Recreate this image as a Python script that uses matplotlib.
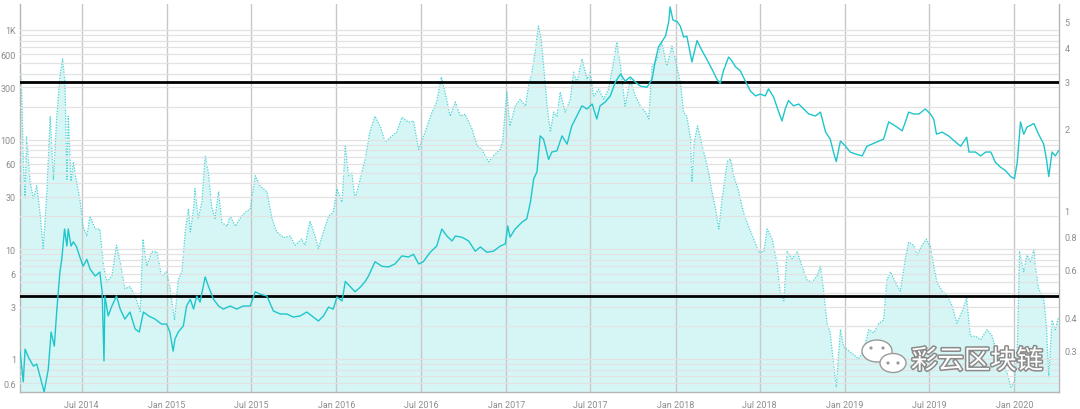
import numpy as np
import pandas as pd
import matplotlib
matplotlib.use("Agg")
import matplotlib.pyplot as plt
import matplotlib.dates as mdates
import matplotlib.ticker as mticker
import matplotlib.patheffects as pe
from matplotlib.patches import Ellipse, Circle

# price (left axis, log)
price_dates = [
    "2014-02-18", "2014-02-25", "2014-03-01", "2014-03-08", "2014-03-19", "2014-03-26",
    "2014-04-02", "2014-04-11", "2014-04-20", "2014-04-26", "2014-05-03", "2014-05-08",
    "2014-05-15", "2014-05-19", "2014-05-25", "2014-05-30", "2014-06-02", "2014-06-08",
    "2014-06-13", "2014-06-20", "2014-06-27", "2014-07-04", "2014-07-12", "2014-07-19",
    "2014-07-30", "2014-08-09", "2014-08-14", "2014-08-18", "2014-08-20", "2014-08-27",
    "2014-09-04", "2014-09-14", "2014-09-22", "2014-10-02", "2014-10-13", "2014-10-24",
    "2014-11-02", "2014-11-11", "2014-11-22", "2014-12-06", "2014-12-20", "2014-12-31",
    "2015-01-07", "2015-01-14", "2015-01-18", "2015-01-25", "2015-02-05", "2015-02-12",
    "2015-02-20", "2015-02-27", "2015-03-06", "2015-03-13", "2015-03-24", "2015-03-31",
    "2015-04-11", "2015-04-22", "2015-05-02", "2015-05-17", "2015-05-31", "2015-06-14",
    "2015-06-29", "2015-07-10", "2015-07-20", "2015-08-04", "2015-08-18", "2015-09-02",
    "2015-09-16", "2015-09-30", "2015-10-15", "2015-10-29", "2015-11-12", "2015-11-23",
    "2015-12-04", "2015-12-15", "2015-12-25", "2016-01-02", "2016-01-13", "2016-01-20",
    "2016-01-30", "2016-02-10", "2016-02-21", "2016-03-03", "2016-03-10", "2016-03-24",
    "2016-04-08", "2016-04-22", "2016-05-06", "2016-05-21", "2016-06-04", "2016-06-15",
    "2016-06-26", "2016-07-06", "2016-07-21", "2016-08-04", "2016-08-15", "2016-08-26",
    "2016-09-06", "2016-09-13", "2016-09-27", "2016-10-12", "2016-10-26", "2016-11-06",
    "2016-11-20", "2016-12-04", "2016-12-19", "2016-12-30", "2017-01-04", "2017-01-09",
    "2017-01-20", "2017-02-04", "2017-02-14", "2017-02-22", "2017-03-01", "2017-03-08",
    "2017-03-15", "2017-03-22", "2017-03-26", "2017-04-02", "2017-04-09", "2017-04-20",
    "2017-05-01", "2017-05-12", "2017-05-22", "2017-06-02", "2017-06-13", "2017-06-24",
    "2017-07-05", "2017-07-15", "2017-07-22", "2017-08-02", "2017-08-13", "2017-08-24",
    "2017-09-04", "2017-09-14", "2017-09-25", "2017-10-06", "2017-10-17", "2017-10-31",
    "2017-11-11", "2017-11-18", "2017-11-25", "2017-12-02", "2017-12-10", "2017-12-17",
    "2017-12-20", "2017-12-26", "2018-01-04", "2018-01-11", "2018-01-18", "2018-01-25",
    "2018-02-05", "2018-02-16", "2018-02-27", "2018-03-09", "2018-03-20", "2018-03-31",
    "2018-04-07", "2018-04-14", "2018-04-25", "2018-05-02", "2018-05-10", "2018-05-20",
    "2018-05-31", "2018-06-11", "2018-06-22", "2018-07-02", "2018-07-13", "2018-07-20",
    "2018-07-31", "2018-08-11", "2018-08-18", "2018-08-25", "2018-09-01", "2018-09-12",
    "2018-09-23", "2018-10-04", "2018-10-15", "2018-10-29", "2018-11-09", "2018-11-20",
    "2018-11-30", "2018-12-07", "2018-12-13", "2018-12-22", "2019-01-02", "2019-01-12",
    "2019-01-23", "2019-02-07", "2019-02-17", "2019-02-28", "2019-03-15", "2019-03-25",
    "2019-04-05", "2019-04-19", "2019-04-23", "2019-05-04", "2019-05-11", "2019-05-18",
    "2019-05-29", "2019-06-09", "2019-06-23", "2019-07-04", "2019-07-11", "2019-07-17",
    "2019-07-29", "2019-08-12", "2019-08-27", "2019-09-07", "2019-09-20", "2019-09-25",
    "2019-10-09", "2019-10-20", "2019-10-31", "2019-11-11", "2019-11-21", "2019-12-02",
    "2019-12-13", "2019-12-24", "2020-01-01", "2020-01-07", "2020-01-14", "2020-01-21",
    "2020-01-28", "2020-02-12", "2020-02-22", "2020-03-04", "2020-03-10", "2020-03-15",
    "2020-03-22", "2020-03-29", "2020-04-05",
]
price_vals = [
    1.18, 0.62, 1.23, 1.04, 0.86, 0.90,
    0.70, 0.50, 0.81, 1.76, 1.31, 2.68,
    6.2, 8.1, 15.3, 10.7, 15.3, 10.7,
    11.7, 10.5, 8.5, 7.0, 8.1, 6.6,
    5.7, 6.2, 4.1, 0.96, 3.75, 2.47,
    3.04, 3.75, 2.85, 2.31, 2.68, 1.88,
    1.76, 2.68, 2.47, 2.31, 2.08, 2.08,
    1.76, 1.18, 1.52, 1.76, 2.0, 3.04,
    3.5, 2.85, 3.75, 3.3, 5.6, 4.6,
    3.5, 3.04, 2.85, 3.04, 2.85, 3.04,
    3.04, 4.1, 3.9, 3.75, 2.74, 2.57,
    2.57, 2.41, 2.47, 2.68, 2.41, 2.22,
    2.47, 2.97, 2.85, 3.67, 3.38, 5.1,
    4.6, 4.1, 4.5, 5.1, 5.7, 7.7,
    7.0, 6.9, 7.35, 8.7, 8.5, 9.0,
    7.35, 7.7, 9.4, 10.7, 15.3, 13.2,
    11.9, 13.2, 12.9, 11.9, 9.6, 10.5,
    9.4, 9.6, 10.7, 11.2, 16.3, 12.9,
    15.3, 17.7, 18.9, 27, 44, 50.6,
    108, 101, 87, 66, 77, 79,
    108, 91, 133, 164, 203, 190,
    211, 154, 203, 220, 250, 335,
    396, 342, 372, 335, 307, 300,
    354, 522, 700, 780, 877, 1190,
    1620, 1230, 1190, 1080, 860, 877,
    510, 800, 643, 540, 440, 354,
    325, 425, 565, 522, 460, 425,
    342, 277, 250, 260, 250, 290,
    244, 178, 148, 190, 227, 203,
    211, 190, 171, 164, 178, 117,
    101, 77, 63, 97, 87, 77,
    74, 71, 87, 91, 97, 101,
    145, 133, 130, 120, 145, 178,
    171, 171, 190, 171, 154, 112,
    117, 108, 95, 87, 105, 77,
    77, 71, 77, 77, 62, 56,
    52, 46, 44, 62, 145, 112,
    130, 140, 112, 91, 66, 46,
    77, 71, 79,
]

# ratio (right axis, log) - dotted with fill
ratio_dates = [
    "2014-02-18", "2014-02-22", "2014-02-25", "2014-03-01", "2014-03-04", "2014-03-12",
    "2014-03-19", "2014-03-26", "2014-04-02", "2014-04-09", "2014-04-17", "2014-04-24",
    "2014-05-01", "2014-05-08", "2014-05-15", "2014-05-21", "2014-05-26", "2014-05-30",
    "2014-06-02", "2014-06-08", "2014-06-13", "2014-06-20", "2014-06-27", "2014-07-04",
    "2014-07-12", "2014-07-19", "2014-07-30", "2014-08-09", "2014-08-17", "2014-08-24",
    "2014-09-04", "2014-09-14", "2014-09-22", "2014-10-02", "2014-10-13", "2014-10-24",
    "2014-11-04", "2014-11-10", "2014-11-18", "2014-11-29", "2014-12-10", "2014-12-20",
    "2014-12-31", "2015-01-07", "2015-01-17", "2015-01-25", "2015-02-02", "2015-02-09",
    "2015-02-16", "2015-02-20", "2015-02-27", "2015-03-02", "2015-03-09", "2015-03-17",
    "2015-03-24", "2015-03-31", "2015-04-07", "2015-04-14", "2015-04-22", "2015-04-29",
    "2015-05-10", "2015-05-17", "2015-05-28", "2015-06-07", "2015-06-18", "2015-06-29",
    "2015-07-10", "2015-07-20", "2015-08-04", "2015-08-15", "2015-08-25", "2015-09-09",
    "2015-09-23", "2015-10-04", "2015-10-18", "2015-10-25", "2015-11-05", "2015-11-16",
    "2015-11-23", "2015-12-04", "2015-12-15", "2015-12-25", "2016-01-02", "2016-01-13",
    "2016-01-20", "2016-01-27", "2016-02-03", "2016-02-10", "2016-02-21", "2016-03-03",
    "2016-03-13", "2016-03-24", "2016-04-04", "2016-04-15", "2016-04-29", "2016-05-10",
    "2016-05-21", "2016-06-04", "2016-06-15", "2016-06-26", "2016-07-10", "2016-07-25",
    "2016-08-04", "2016-08-14", "2016-08-22", "2016-09-02", "2016-09-13", "2016-09-24",
    "2016-10-04", "2016-10-19", "2016-10-30", "2016-11-09", "2016-11-24", "2016-12-04",
    "2016-12-19", "2016-12-24", "2017-01-02", "2017-01-09", "2017-01-20", "2017-01-31",
    "2017-02-11", "2017-02-18", "2017-02-25", "2017-03-04", "2017-03-11", "2017-03-17",
    "2017-03-22", "2017-03-30", "2017-04-06", "2017-04-13", "2017-04-20", "2017-04-27",
    "2017-05-08", "2017-05-19", "2017-05-26", "2017-06-02", "2017-06-13", "2017-06-24",
    "2017-07-01", "2017-07-08", "2017-07-19", "2017-07-30", "2017-08-09", "2017-08-20",
    "2017-08-27", "2017-09-04", "2017-09-14", "2017-09-25", "2017-10-06", "2017-10-17",
    "2017-10-28", "2017-11-04", "2017-11-11", "2017-11-22", "2017-12-02", "2017-12-13",
    "2017-12-24", "2017-12-31", "2018-01-11", "2018-01-18", "2018-01-25", "2018-02-02",
    "2018-02-05", "2018-02-10", "2018-02-17", "2018-02-27", "2018-03-06", "2018-03-13",
    "2018-03-20", "2018-03-27", "2018-04-04", "2018-04-11", "2018-04-22", "2018-04-29",
    "2018-05-06", "2018-05-17", "2018-05-27", "2018-06-07", "2018-06-18", "2018-06-29",
    "2018-07-10", "2018-07-17", "2018-07-28", "2018-08-07", "2018-08-14", "2018-08-22",
    "2018-08-29", "2018-09-09", "2018-09-20", "2018-09-30", "2018-10-11", "2018-10-22",
    "2018-11-02", "2018-11-09", "2018-11-16", "2018-11-23", "2018-11-30", "2018-12-07",
    "2018-12-13", "2018-12-22", "2018-12-29", "2019-01-09", "2019-01-20", "2019-01-30",
    "2019-02-10", "2019-02-21", "2019-03-04", "2019-03-15", "2019-03-25", "2019-04-01",
    "2019-04-09", "2019-04-19", "2019-04-30", "2019-05-11", "2019-05-18", "2019-05-29",
    "2019-06-05", "2019-06-16", "2019-06-25", "2019-07-04", "2019-07-11", "2019-07-18",
    "2019-07-29", "2019-08-09", "2019-08-20", "2019-08-30", "2019-09-10", "2019-09-20",
    "2019-09-28", "2019-10-09", "2019-10-20", "2019-11-03", "2019-11-14", "2019-11-25",
    "2019-12-05", "2019-12-16", "2019-12-24", "2020-01-01", "2020-01-07", "2020-01-12",
    "2020-01-21", "2020-01-28", "2020-02-05", "2020-02-12", "2020-02-15", "2020-02-22",
    "2020-03-04", "2020-03-10", "2020-03-15", "2020-03-22", "2020-03-29", "2020-04-05",
]
ratio_vals = [
    3.54, 2.65, 1.55, 1.10, 1.88, 1.27,
    1.10, 1.23, 0.98, 0.72, 1.17, 2.23,
    1.30, 2.18, 3.14, 3.64, 2.98, 1.30,
    2.23, 1.28, 1.51, 1.27, 1.10, 0.87,
    0.80, 0.95, 0.85, 0.85, 0.62, 0.54,
    0.57, 0.74, 0.64, 0.51, 0.52, 0.48,
    0.42, 0.78, 0.62, 0.70, 0.70, 0.57,
    0.59, 0.52, 0.39, 0.55, 0.59, 0.83,
    1.01, 0.83, 1.01, 1.20, 0.93, 1.07,
    1.59, 1.38, 1.03, 0.93, 1.17, 0.90,
    0.87, 0.95, 0.87, 0.93, 0.98, 1.01,
    1.34, 1.23, 1.17, 0.93, 0.83, 0.79,
    0.80, 0.74, 0.78, 0.74, 0.91, 0.80,
    0.72, 0.83, 0.95, 0.98, 1.20, 1.07,
    1.73, 1.34, 1.38, 1.10, 1.30, 1.55,
    1.95, 2.23, 2.05, 1.79, 1.88, 1.95,
    2.21, 2.12, 2.14, 1.68, 1.95, 2.31,
    2.52, 3.12, 2.74, 2.23, 2.52, 2.23,
    2.27, 2.0, 1.73, 1.68, 1.51, 1.59,
    1.68, 1.79, 2.74, 2.05, 2.43, 2.58,
    2.43, 2.89, 3.25, 3.86, 4.82, 4.31,
    3.5, 2.43, 1.95, 2.31, 2.23, 2.74,
    2.31, 2.58, 3.25, 2.98, 3.64, 3.06,
    3.25, 2.65, 2.81, 2.58, 2.81, 3.54,
    4.2, 3.43, 2.43, 3.06, 2.65, 2.43,
    2.31, 2.18, 3.43, 3.64, 4.2, 3.43,
    4.06, 3.64, 2.98, 2.31, 2.23, 1.84,
    1.27, 1.79, 2.05, 1.73, 1.55, 1.38,
    1.17, 1.03, 0.85, 1.10, 1.51, 1.55,
    1.34, 1.17, 0.98, 0.87, 0.78, 0.70,
    0.70, 0.85, 0.78, 0.64, 0.50, 0.46,
    0.70, 0.66, 0.70, 0.62, 0.55, 0.54,
    0.57, 0.62, 0.50, 0.38, 0.35, 0.27,
    0.22, 0.36, 0.31, 0.30, 0.29, 0.28,
    0.30, 0.36, 0.35, 0.38, 0.39, 0.55,
    0.59, 0.54, 0.50, 0.66, 0.76, 0.74,
    0.68, 0.74, 0.78, 0.73, 0.62, 0.54,
    0.50, 0.48, 0.44, 0.38, 0.42, 0.47,
    0.34, 0.34, 0.33, 0.36, 0.34, 0.29,
    0.27, 0.25, 0.22, 0.23, 0.30, 0.70,
    0.59, 0.68, 0.64, 0.72, 0.62, 0.51,
    0.47, 0.37, 0.24, 0.39, 0.36, 0.40,
]

price_ticks = [0.6, 1, 3, 6, 10, 30, 60, 100, 300, 600, 1000]
price_ticklabels = ["0.6", "1", "3", "6", "10", "30", "60", "100", "300", "600", "1K"]
ratio_ticks = [0.3, 0.4, 0.6, 0.8, 1, 2, 3, 4, 5]
ratio_ticklabels = ["0.3", "0.4", "0.6", "0.8", "1", "2", "3", "4", "5"]
ratio_bands = [3, 0.48]

p_dates = pd.to_datetime(price_dates)
r_dates = pd.to_datetime(ratio_dates)

line_col = "#1ec6cb"
dot_col = "#4ad2d6"
fill_col = "#d6f6f6"
tick_col = "#8c8c8c"

fig = plt.figure(figsize=(10.8, 4.1), dpi=100)
ax = fig.add_axes([20 / 1080, 17 / 410, 1039 / 1080, 388 / 410])
ax2 = ax.twinx()

# ratio on the first axes, ticks moved to the right
ax.set_yscale("log")
ax.fill_between(r_dates, ratio_vals, 0.05, color=fill_col, lw=0, zorder=1)
ax.plot(r_dates, ratio_vals, color=dot_col, lw=0.9, ls=(0, (1, 1.2)), zorder=2)
for b in ratio_bands:
    ax.axhline(b, color="black", lw=2, zorder=5)
ax.set_ylim(0.211, 5.82)
ax.yaxis.tick_right()
ax.set_yticks(ratio_ticks)
ax.set_yticklabels(ratio_ticklabels)
ax.yaxis.set_minor_locator(mticker.NullLocator())

# price on the twin, ticks moved to the left
ax2.set_yscale("log")
ax2.plot(p_dates, price_vals, color=line_col, lw=1.0, zorder=3)
ax2.set_ylim(0.5, 1722)
ax2.yaxis.tick_left()
ax2.set_yticks(price_ticks)
ax2.set_yticklabels(price_ticklabels)
ax2.yaxis.set_minor_locator(mticker.LogLocator(base=10, subs=np.arange(2, 10)))
ax2.yaxis.set_minor_formatter(mticker.NullFormatter())
ax2.grid(True, which="both", axis="y", color="#e2e2e2", lw=0.9, zorder=0)

ax.set_xlim(pd.Timestamp("2014-02-18"), pd.Timestamp("2020-04-06"))
xt = pd.date_range("2014-07-01", "2020-01-01", freq="6MS")
ax.set_xticks(xt)
ax.xaxis.set_major_formatter(mdates.DateFormatter("%b %Y"))
ax.grid(True, axis="x", color="#c8c8c8", lw=1, zorder=1.5)

for a in (ax, ax2):
    a.tick_params(axis="both", which="both", length=0, labelcolor=tick_col, labelsize=6.5)
    for s in a.spines.values():
        s.set_visible(False)
ax.tick_params(axis="x", pad=6)
ax.tick_params(axis="y", pad=4)
ax2.tick_params(axis="y", pad=3)
for s in ("left", "right", "bottom"):
    ax.spines[s].set_visible(True)
    ax.spines[s].set_color("#b5b5b5")
    ax.spines[s].set_linewidth(1)

for lab in ax.get_xticklabels() + ax.get_yticklabels() + ax2.get_yticklabels():
    lab.set_family("Roboto")

# watermark overlay
ov = fig.add_axes([0, 0, 1, 1], facecolor="none")
ov.set_xlim(0, 1080)
ov.set_ylim(410, 0)
ov.axis("off")
ov.add_patch(Ellipse((877, 352), 30, 22, fc="white", ec="#9a9a9a", lw=1))
ov.add_patch(Ellipse((893, 364), 26, 19, fc="white", ec="#9a9a9a", lw=1))
for cx, cy in [(871, 349), (883, 349), (888, 364), (898, 364)]:
    ov.add_patch(Circle((cx, cy), 1.6, fc="#9a9a9a", ec="none"))
ov.text(977, 362, "彩云区块链", fontsize=19, color="white", ha="center", va="center",
        family=["Noto Sans CJK SC", "DejaVu Sans"],
        path_effects=[pe.withStroke(linewidth=2.2, foreground="#8a8a8a")])

fig.savefig("out.png", dpi=100)
